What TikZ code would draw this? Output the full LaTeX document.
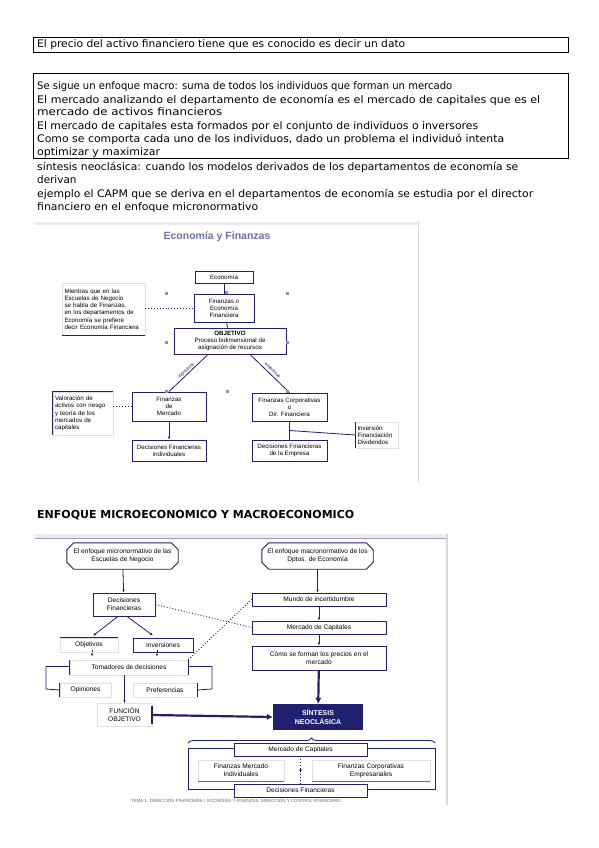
\documentclass[tikz,border=0pt]{standalone}
\usepackage{fontspec}
\setmainfont{DejaVu Sans}
\newfontfamily\arialf{Liberation Sans}
\usetikzlibrary{arrows.meta,calc,decorations.pathreplacing}
\definecolor{navy}{RGB}{32,32,112}
\definecolor{titleblue}{RGB}{108,112,168}
\definecolor{handle}{RGB}{150,150,150}
\newcommand\octframe[1]{\draw[navy,line width=0.9pt]
  ($(#1.north west)+(7,0)$) -- ($(#1.north east)+(-7,0)$) -- ($(#1.north east)+(0,7)$) --
  ($(#1.south east)+(0,-7)$) -- ($(#1.south east)+(-7,0)$) -- ($(#1.south west)+(7,0)$) --
  ($(#1.south west)+(0,-7)$) -- ($(#1.north west)+(0,7)$) -- cycle;}
\newcommand\fitline[2]{\setbox0=\hbox{#2}\pgfmathsetmacro\fitsx{#1/\wd0}\scalebox{\fitsx}[1]{\box0}}
\begin{document}
\begin{tikzpicture}[x=1pt,y=-1pt,
  bt/.style={anchor=base west, inner sep=0pt, font=\fontsize{10.4}{12}\selectfont},
  dg/.style={font=\arialf\fontsize{6.2}{7.2}\selectfont, align=center, inner sep=0pt},
  dgb/.style={font=\arialf\fontsize{6.6}{7.8}\selectfont, align=center, inner sep=0pt},
  nb/.style={draw=navy, line width=0.9pt, fill=white},
  lb/.style={draw=black!12, line width=0.5pt},
  cn/.style={navy, line width=0.8pt},
  dt/.style={navy, line width=0.9pt, dotted},
  arr/.style={cn, -{Latex[length=3pt,width=2.6pt]}},
  bigarr/.style={navy, line width=2.2pt, -{Latex[length=6pt,width=6.5pt]}},
  hd/.style={fill=handle, minimum size=3pt, inner sep=0pt},
  lbl/.style={font=\arialf\fontsize{4.6}{5}\selectfont, inner sep=0.5pt}
]
\useasboundingbox (0,0) rectangle (599,848);
\fill[white] (0,0) rectangle (599,848);

% ---------- text at top ----------
\draw[line width=0.6pt] (33,37) rectangle (568,52);
\node[bt] (t1) at (37,48) {\fitline{368}{El precio del activo financiero tiene que es conocido es decir un dato}};
\draw[line width=0.6pt] (33,73) rectangle (568,158);
\node[bt] (t2) at (37,89.5) {\fitline{415}{Se sigue un enfoque macro: suma de todos los individuos que forman un mercado}};
\node[bt] (t3) at (37,103) {\fitline{503}{El mercado analizando el departamento de economía es el mercado de capitales que es el}};
\node[bt] (t4) at (37,116) {\fitline{185}{mercado de activos financieros}};
\node[bt] (t5) at (37,129) {\fitline{441}{El mercado de capitales esta formados por el conjunto de individuos o inversores}};
\node[bt] (t6) at (37,142.5) {\fitline{467}{Como se comporta cada uno de los individuos, dado un problema el individuó intenta}};
\node[bt] (t7) at (37,155.5) {\fitline{123}{optimizar y maximizar}};
\node[bt] (t8) at (37,170.5) {\fitline{481}{síntesis neoclásica: cuando los modelos derivados de los departamentos de economía se}};
\node[bt] (t9) at (37,183.5) {derivan};
\node[bt] (t10) at (37,197) {\fitline{496}{ejemplo el CAPM que se deriva en el departamentos de economía se estudia por el director}};
\node[bt] (t11) at (37,210) {\fitline{221}{financiero en el enfoque micronormativo}};

% ---------- diagram 1 ----------
\fill[black!8] (35,222) rectangle (418,225);
\draw[black!15, line width=1pt] (418,222) -- (418,482);
\node[font=\arialf\bfseries\fontsize{10.5}{12}\selectfont, text=titleblue] (ttl) at (217,237) {Economía y Finanzas};

\node[dg, nb, minimum width=58pt, minimum height=12pt] (eco) at (224,277) {Economía};
\node[dg, nb, minimum width=60pt, minimum height=28pt] (fin) at (224,308) {Finanzas o\\Economía\\Financiera};
\node[dg, nb, minimum width=112pt, minimum height=26pt] (obj) at (230,341) {\textbf{OBJETIVO}\\Proceso bidimensional de\\asignación de recursos};
\node[dg, lb, align=left, minimum width=83pt, minimum height=52pt, text width=78pt] (note1) at (103.5,309)
  {Mientras que en las\\Escuelas de Negocio\\se habla de Finanzas,\\en los departamentos de\\Economía se prefiere\\decir Economía Financiera};
\draw[cn] (note1.south west) -- (note1.south east);
\node[dg, nb, minimum width=74pt, minimum height=29pt] (fm) at (169,406.5) {Finanzas\\de\\Mercado};
\node[dg, nb, minimum width=74pt, minimum height=21pt] (dfi) at (169,450.5) {Decisiones Financieras\\individuales};
\node[dg, nb, minimum width=75pt, minimum height=28pt] (fc) at (289.5,407) {Finanzas Corporativas\\o\\Dir. Financiera};
\node[dg, nb, minimum width=75pt, minimum height=21pt] (dfe) at (289.5,450.5) {Decisiones Financieras\\de la Empresa};
\node[dg, lb, align=left, minimum width=60pt, minimum height=43pt, text width=56pt] (note2) at (83,413.5)
  {Valoración de\\activos con riesgo\\y teoría de los\\mercados de\\capitales};
\draw[cn] (note2.south west) -- (note2.north west) -- (note2.north east);
\node[dg, lb, align=left, minimum width=43pt, minimum height=26pt, text width=39pt] (note3) at (377,435)
  {Inversión\\Financiación\\Dividendos};
\draw[cn] (note3.north west) -- (note3.south west);

\draw[cn] (eco) -- (fin);
\draw[cn] (fin) -- (obj);
\draw[dt] (note1.east |- fin.west) -- (fin.west);
\draw[dt] (note2.east |- fm.west) -- (fm.west);
\draw[cn] ($(obj.south)+(-22,0)$) -- node[sloped, above=1pt, pos=0.5, lbl] (lind) {individuos} (fm.north);
\draw[cn] ($(obj.south)+(20,0)$) -- node[sloped, above=1pt, pos=0.5, lbl] (lemp) {empresas} (fc.north);
\draw[arr] (fm) -- (dfi);
\draw[cn] (fc) -- (dfe);
\draw[cn] ($(fc.south)!0.5!(dfe.north)$) -- (note3.west);

\foreach \p in {(166,293),(287,293),(166,342),(287,342),(226,292),(166,391),(227,391),(287,391)}
  \node[hd] at \p {};

% ---------- header ----------
\node[anchor=base west, inner sep=0pt, font=\bfseries\fontsize{11}{13}\selectfont] (hdr) at (37,518) {ENFOQUE MICROECONOMICO Y MACROECONOMICO};

% ---------- diagram 2 ----------
\fill[black!8] (35,534) rectangle (447,538);
\draw[navy!45, line width=0.6pt] (35,538) -- (447,538);
\draw[black!15, line width=2pt] (447,534) -- (447,805);

\node[dgb, minimum width=111pt, minimum height=26pt] (micro) at (122.5,556) {El enfoque micronormativo de las\\Escuelas de Negocio};
\octframe{micro}
\node[dgb, minimum width=111pt, minimum height=26pt] (macro) at (317.5,556) {El enfoque macronormativo de los\\Dptos. de Economía};
\octframe{macro}

\node[dgb, nb, minimum width=62pt, minimum height=23pt] (df) at (124,604.5) {Decisiones\\Financieras};
\node[dgb, lb, minimum width=58pt, minimum height=14pt] (objv) at (89,645) {Objetivos};
\draw[cn] (objv.north west) -- (objv.north east);
\node[dgb, nb, minimum width=60pt, minimum height=14pt] (inv) at (163,645) {Inversiones};
\node[dgb, lb, minimum width=118pt, minimum height=15pt] (tom) at (129,667.5) {Tomadores de decisiones};
\draw[cn] (tom.north west) -- (tom.south west);
\draw[cn] (tom.north east) -- (tom.south east);
\node[dgb, lb, minimum width=51pt, minimum height=14pt] (opi) at (85.5,690) {Opiniones};
\draw[cn] (opi.north west) -- (opi.south west);
\node[dgb, lb, minimum width=64pt, minimum height=14pt] (pref) at (165,690) {Preferencias};
\draw[cn] (pref.north east) -- (pref.south east);
\node[dgb, lb, minimum width=55pt, minimum height=23pt] (fo) at (124.5,715) {FUNCIÓN\\OBJETIVO};
\draw[navy, line width=1.6pt] ($(fo.north east)+(0,3)$) -- ($(fo.south east)+(0,-3)$);
\node[dgb, fill=navy, text=white, font=\arialf\bfseries\fontsize{7}{8.5}\selectfont, minimum width=90pt, minimum height=26pt] (sint) at (318,717) {SÍNTESIS\\NEOCLÁSICA};

\node[dgb, nb, minimum width=134pt, minimum height=13pt] (mundo) at (319,599.5) {Mundo de incertidumbre};
\node[dgb, nb, minimum width=134pt, minimum height=13pt] (mc) at (319,627.5) {Mercado de Capitales};
\node[dgb, nb, minimum width=134pt, minimum height=24pt] (como) at (319,658) {Cómo se forman los precios en el\\mercado};

\draw[arr] (micro) -- (df);
\draw[arr] ($(df.south)+(-6,0)$) -- ($(objv.north)+(4,-2)$);
\draw[arr] ($(df.south)+(3,0)$) -- ($(inv.north)+(-10,-2)$);
\draw[arr] ($(objv.south)+(3,0)$) -- ($(objv.south)+(3,0)$ |- tom.north);
\draw[arr] ($(inv.south)+(-6,0)$) -- ($(inv.south)+(-6,0)$ |- tom.north);
\draw[cn] ($(tom.west)+(0,-1)$) -- (46,666.5) -- (46,689) -- (opi.west);
\draw[cn] ($(tom.east)+(0,-1)$) -- (212,666.5) -- (212,689) -- (pref.east);
\draw[arr] (fo.north |- tom.south) -- (fo.north);
\draw[bigarr] (fo.east) -- (sint.west);

\draw[arr] (macro) -- (macro |- mundo.north);
\draw[arr] (mundo) -- (mc);
\draw[arr] (mc) -- (como);
\draw[bigarr] (como) -- (sint);
\draw[dt] (df.east) -- (mc.west);
\draw[dt] (tom.north east) -- (mundo.west);

% lower block
\draw[navy, line width=0.9pt, decorate, decoration={brace, amplitude=5pt}] (188,743) -- (435,743);
\node[draw=navy, line width=0.9pt, minimum width=247pt, minimum height=41pt, inner sep=0pt] (big) at (311.5,768.5) {};
\node[dgb, lb, fill=white, minimum width=86pt, minimum height=21pt] (fmi) at (241,770.5) {Finanzas Mercado\\Individuales};
\draw[navy!70, line width=0.8pt] (fmi.south west) -- (fmi.south east);
\node[dgb, lb, fill=white, minimum width=118pt, minimum height=21pt] (fce) at (371,770.5) {Finanzas Corporativas\\Empresariales};
\draw[navy!70, line width=0.8pt] (fce.south west) -- (fce.south east);
\node[dgb, nb, minimum width=133pt, minimum height=13pt] (mc2) at (300.5,749.5) {Mercado de Capitales};
\node[dgb, nb, minimum width=133pt, minimum height=13pt] (dec2) at (300.5,790.5) {Decisiones Financieras};
\draw[dt] (mc2) -- (dec2);
\draw[cn, -{Latex[length=3pt,width=3pt]}] ($(mc2.south)!0.45!(dec2.north)$) -- ($(mc2.south)!0.6!(dec2.north)$);

\node[font=\arialf\fontsize{4.4}{5}\selectfont, text=black!60, inner sep=0pt] (foot) at (236,800.5)
  {TEMA 1. DIRECCIÓN FINANCIERA I. ECONOMÍA Y FINANZAS. DIRECCIÓN Y CONTROL FINANCIERO};
\end{tikzpicture}
\end{document}
